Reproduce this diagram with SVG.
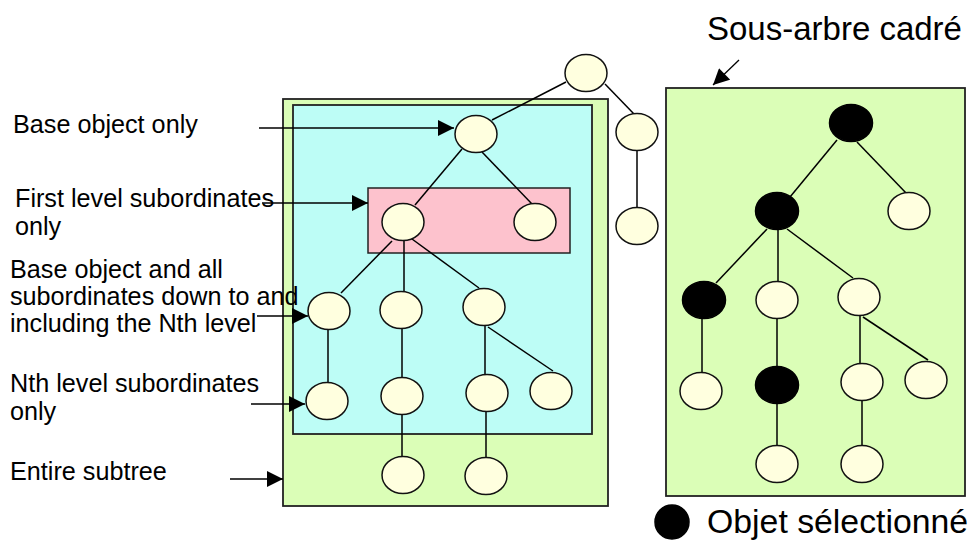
<svg xmlns="http://www.w3.org/2000/svg" width="971" height="542" viewBox="0 0 971 542">
  <defs>
    <marker id="arrow" viewBox="0 0 10 10" refX="10" refY="5" markerWidth="17" markerHeight="16" markerUnits="userSpaceOnUse" orient="auto">
      <path d="M0,0 L10,5 L0,10 Z" fill="#000"/>
    </marker>
  </defs>
  <style>
    .lbl { font-family: "Liberation Sans", Arial, sans-serif; font-size: 25.2px; fill: #000; }
    .big { font-family: "Liberation Sans", Arial, sans-serif; font-size: 33px; fill: #000; }
    .node { fill: #FFFFDF; stroke: #111; stroke-width: 1.5; }
    .sel { fill: #000; stroke: #000; stroke-width: 1.5; }
    .edge { stroke: #000; stroke-width: 1.5; fill: none; }
    .ptr { stroke: #000; stroke-width: 1.3; fill: none; marker-end: url(#arrow); }
    .frame-green { fill: #DBFEB7; stroke: #222; stroke-width: 1.8; }
    .frame-cyan { fill: #BDFDF6; stroke: #222; stroke-width: 1.8; }
    .frame-pink { fill: #FDC2CD; stroke: #222; stroke-width: 1.5; }
  </style>

  <!-- scope frames -->
  <g id="frames">
    <rect class="frame-green" x="283" y="99" width="325" height="407"/>
    <rect class="frame-cyan" x="293" y="105" width="299" height="329"/>
    <rect class="frame-pink" x="368" y="188" width="202" height="65"/>
    <rect class="frame-green" x="666" y="88" width="299" height="408"/>
  </g>

  <!-- tree edges -->
  <g id="connectors">
    <!-- left tree -->
    <line class="edge" x1="566" y1="82" x2="492" y2="120"/>
    <line class="edge" x1="605" y1="84" x2="634" y2="114"/>
    <line class="edge" x1="637" y1="151" x2="637" y2="207"/>
    <line class="edge" x1="462" y1="149" x2="415" y2="205"/>
    <line class="edge" x1="482" y1="152" x2="532" y2="204"/>
    <line class="edge" x1="392" y1="241" x2="341" y2="293"/>
    <line class="edge" x1="404" y1="241" x2="404" y2="292"/>
    <line class="edge" x1="412" y1="239" x2="479" y2="288"/>
    <line class="edge" x1="328" y1="329" x2="328" y2="383"/>
    <line class="edge" x1="402" y1="329" x2="402" y2="377"/>
    <line class="edge" x1="485" y1="326" x2="485" y2="375"/>
    <line class="edge" x1="488" y1="327" x2="553" y2="371"/>
    <line class="edge" x1="402" y1="414" x2="402" y2="457"/>
    <line class="edge" x1="486" y1="412" x2="486" y2="458"/>
    <!-- right tree -->
    <line class="edge" x1="837" y1="140" x2="790" y2="197"/>
    <line class="edge" x1="857" y1="142" x2="907" y2="194"/>
    <line class="edge" x1="767" y1="229" x2="716" y2="283"/>
    <line class="edge" x1="778" y1="229" x2="778" y2="282"/>
    <line class="edge" x1="787" y1="229" x2="853" y2="278"/>
    <line class="edge" x1="702" y1="319" x2="702" y2="373"/>
    <line class="edge" x1="777" y1="319" x2="777" y2="367"/>
    <line class="edge" x1="860" y1="315" x2="860" y2="364"/>
    <line class="edge" x1="863" y1="317" x2="928" y2="360"/>
    <line class="edge" x1="777" y1="404" x2="777" y2="446"/>
    <line class="edge" x1="862" y1="401" x2="862" y2="446"/>
    <!-- label pointers -->
    <line class="ptr" x1="259" y1="128" x2="454" y2="128"/>
    <line class="ptr" x1="262" y1="203" x2="368" y2="203"/>
    <line class="ptr" x1="257" y1="316" x2="308" y2="316"/>
    <line class="ptr" x1="251" y1="404" x2="305" y2="404"/>
    <line class="ptr" x1="230" y1="479" x2="283" y2="479"/>
    <line class="ptr" x1="739" y1="60" x2="713" y2="85"/>
  </g>

  <!-- left tree nodes -->
  <g id="n-root"><ellipse class="node" cx="586" cy="73" rx="21" ry="18.5"/></g>
  <g id="n-base"><ellipse class="node" cx="476" cy="134" rx="21" ry="18.5"/></g>
  <g id="n-side1"><ellipse class="node" cx="637" cy="132" rx="21" ry="18.5"/></g>
  <g id="n-side2"><ellipse class="node" cx="637" cy="226" rx="21" ry="18.5"/></g>
  <g id="n-l1a"><ellipse class="node" cx="403" cy="222" rx="21" ry="18.5"/></g>
  <g id="n-l1b"><ellipse class="node" cx="535" cy="222" rx="21" ry="18.5"/></g>
  <g id="n-l2a"><ellipse class="node" cx="329" cy="311" rx="21" ry="18.5"/></g>
  <g id="n-l2b"><ellipse class="node" cx="401" cy="310" rx="21" ry="18.5"/></g>
  <g id="n-l2c"><ellipse class="node" cx="484" cy="307" rx="21" ry="18.5"/></g>
  <g id="n-l3a"><ellipse class="node" cx="327" cy="401" rx="21" ry="18.5"/></g>
  <g id="n-l3b"><ellipse class="node" cx="402" cy="396" rx="21" ry="18.5"/></g>
  <g id="n-l3c"><ellipse class="node" cx="487" cy="393" rx="21" ry="18.5"/></g>
  <g id="n-l3d"><ellipse class="node" cx="551" cy="391" rx="21" ry="18.5"/></g>
  <g id="n-l4a"><ellipse class="node" cx="403" cy="475" rx="21" ry="18.5"/></g>
  <g id="n-l4b"><ellipse class="node" cx="486" cy="476" rx="21" ry="18.5"/></g>

  <!-- right tree nodes -->
  <g id="r-root"><ellipse class="sel" cx="851" cy="123" rx="21.5" ry="18.5"/></g>
  <g id="r-l1a"><ellipse class="sel" cx="777" cy="211" rx="21.5" ry="18.5"/></g>
  <g id="r-l1b"><ellipse class="node" cx="909" cy="211" rx="21" ry="18.5"/></g>
  <g id="r-l2a"><ellipse class="sel" cx="704" cy="300" rx="21.5" ry="18.5"/></g>
  <g id="r-l2b"><ellipse class="node" cx="777" cy="300" rx="21" ry="18.5"/></g>
  <g id="r-l2c"><ellipse class="node" cx="859" cy="297" rx="21" ry="18.5"/></g>
  <g id="r-l3a"><ellipse class="node" cx="701" cy="391" rx="21" ry="18.5"/></g>
  <g id="r-l3b"><ellipse class="sel" cx="777" cy="385" rx="21.5" ry="18.5"/></g>
  <g id="r-l3c"><ellipse class="node" cx="862" cy="382" rx="21" ry="18.5"/></g>
  <g id="r-l3d"><ellipse class="node" cx="926" cy="380" rx="21" ry="18.5"/></g>
  <g id="r-l4a"><ellipse class="node" cx="777" cy="464" rx="21" ry="18.5"/></g>
  <g id="r-l4b"><ellipse class="node" cx="862" cy="464" rx="21" ry="18.5"/></g>

  <!-- labels -->
  <g id="labels">
    <text class="lbl" x="13" y="133">Base object only</text>
    <text class="lbl" x="15" y="207">First level subordinates</text>
    <text class="lbl" x="15" y="235">only</text>
    <text class="lbl" x="10" y="278">Base object and all</text>
    <text class="lbl" x="10" y="305">subordinates down to and</text>
    <text class="lbl" x="10" y="332">including the Nth level</text>
    <text class="lbl" x="10" y="392">Nth level subordinates</text>
    <text class="lbl" x="10" y="420">only</text>
    <text class="lbl" x="10" y="480">Entire subtree</text>
    <text class="big" x="707" y="40">Sous-arbre cadré</text>
  </g>

  <!-- legend -->
  <g id="legend">
    <ellipse class="sel" cx="672" cy="522" rx="17" ry="17"/>
    <text class="big" x="707" y="533" style="font-size:33.8px">Objet sélectionné</text>
  </g>
</svg>
